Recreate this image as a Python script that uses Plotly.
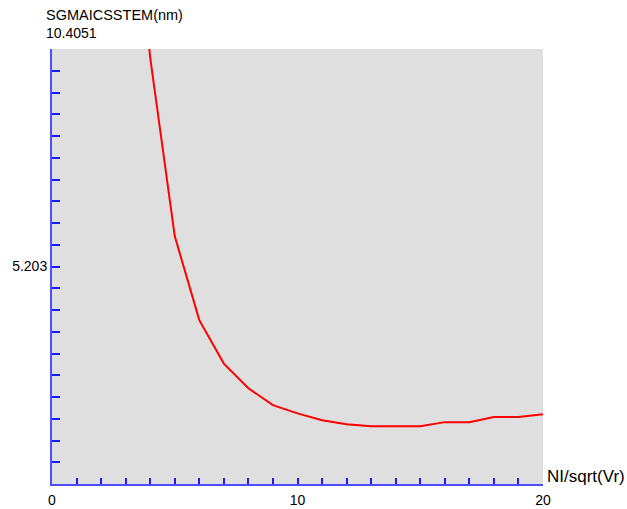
import plotly.graph_objects as go

# Data
x_vals = [3, 4, 5, 6, 7, 8, 9, 10, 11, 12, 13, 14, 15, 16, 17, 18, 19, 20]
sgma_vals = [16.0, 10.2, 5.93, 3.92, 2.88, 2.29, 1.885, 1.69, 1.526, 1.43,
             1.38, 1.38, 1.38, 1.48, 1.48, 1.60, 1.60, 1.67]

y_max = 10.4051
y_mid_label = "5.203"
x_label_vals = [0, 10, 20]
x_label_text = ["0", "10", "20"]
y_title = "SGMAICSSTEM(nm)"
x_title = "NI/sqrt(Vr)"

W, H = 627, 509
L, R, T, B = 52, 84, 49, 25

y_tick_vals = [y_max * k / 20 for k in range(1, 20)]
y_tick_text = [y_mid_label if k == 10 else "" for k in range(1, 20)]
x_tick_vals = list(range(1, 20))

fig = go.Figure()
fig.add_trace(go.Scatter(x=x_vals, y=sgma_vals, mode="lines",
                         line=dict(color="#ff0000", width=2), showlegend=False,
                         hoverinfo="skip"))
# invisible trace on the label axis
fig.add_trace(go.Scatter(x=[0, 20], y=[0, 0], xaxis="x2", mode="lines",
                         line=dict(width=0), showlegend=False, hoverinfo="skip"))

font_main = "Liberation Sans, Arial, sans-serif"

fig.update_layout(
    width=W, height=H,
    margin=dict(l=L, r=R, t=T, b=B, pad=0, autoexpand=False),
    paper_bgcolor="white",
    plot_bgcolor="#dfdfdf",
    font=dict(family=font_main, size=14, color="black"),
    xaxis=dict(range=[0, 20], showgrid=False, zeroline=False, automargin=False,
               showline=True, linecolor="#4d4dff", linewidth=2,
               ticks="inside", ticklen=6, tickwidth=2, tickcolor="#1a1aff",
               tickvals=x_tick_vals, showticklabels=False),
    xaxis2=dict(range=[0, 20], overlaying="x", side="bottom", showgrid=False,
                zeroline=False, showline=False, ticks="", automargin=False,
                tickvals=x_label_vals, ticktext=x_label_text,
                tickfont=dict(size=14, family=font_main, color="black"),
                ticklabelstandoff=6),
    yaxis=dict(range=[0, y_max], showgrid=False, zeroline=False, automargin=False,
               showline=True, linecolor="#4d4dff", linewidth=2,
               ticks="inside", ticklen=8, tickwidth=2, tickcolor="#1a1aff",
               tickvals=y_tick_vals, ticktext=y_tick_text,
               tickfont=dict(size=14, family=font_main, color="black")),
    annotations=[
        dict(text=y_title, xref="paper", yref="paper", x=-8 / 491, y=(483.7 - 15) / 434.4,
             xanchor="left", yanchor="middle", showarrow=False,
             font=dict(size=14.5, family=font_main, color="black")),
        dict(text=f"{y_max:.4f}", xref="paper", yref="paper", x=-8 / 491, y=(483.7 - 33) / 434.4,
             xanchor="left", yanchor="middle", showarrow=False,
             font=dict(size=14, family=font_main, color="black")),
        dict(text=x_title, xref="paper", yref="paper", x=(545 - 52) / 491, y=(483.7 - 476) / 434.4,
             xanchor="left", yanchor="middle", showarrow=False,
             font=dict(size=17, family=font_main, color="black")),
    ],
)

fig.write_html("out.html")
